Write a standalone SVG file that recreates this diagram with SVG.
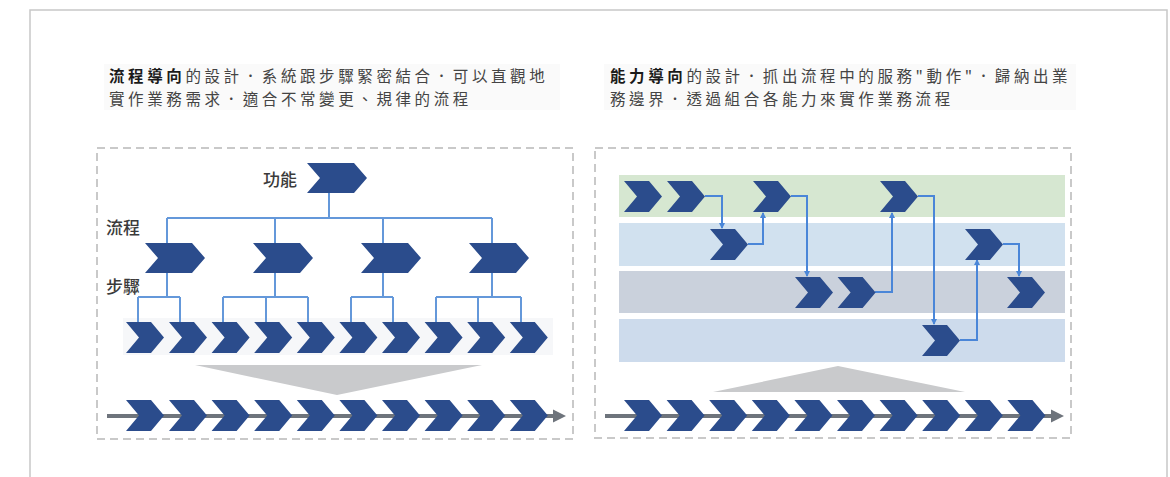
<svg xmlns="http://www.w3.org/2000/svg" width="1170" height="477" viewBox="0 0 1170 477">
<style>
.frame{fill:none;stroke:#c8c8c8;stroke-width:1.5}
.dash{fill:none;stroke:#c9c9c9;stroke-width:2;stroke-dasharray:8 5}
.chev{fill:#2b4c8c}
.tree{fill:none;stroke:#6498da;stroke-width:2}
.conn{fill:none;stroke:#4a86d8;stroke-width:2}
.flow{stroke:#6e747c;stroke-width:4}
.head{font-family:"Noto Sans CJK TC","Noto Sans CJK SC",sans-serif;font-size:15.5px;letter-spacing:3.6px;fill:#444}
.b{font-weight:bold;fill:#1a1a1a}
.lbl{font-family:"Noto Sans CJK TC","Noto Sans CJK SC",sans-serif;font-size:17px;fill:#3a3a3a;font-weight:500}
.funnel{fill:#c9cacc}
</style>
<defs>
<path id="cs" d="M0,0 h25 l13,15.5 l-13,15.5 h-25 l13,-15.5 z"/>
<path id="cb" d="M0,0 h47 l13,15 l-13,15 h-47 l13,-15 z"/>
<marker id="ah" markerWidth="7" markerHeight="7" refX="5" refY="3.5" orient="auto" markerUnits="userSpaceOnUse">
<path d="M0,0.5 L6,3.5 L0,6.5 z" fill="#4a86d8"/>
</marker>
</defs>
<rect width="1170" height="477" fill="#fff"/>
<path class="frame" d="M30,477 V10 H1167 V477"/>

<!-- headings -->
<rect x="104" y="64" width="456" height="46" fill="#fafafa"/>
<rect x="604" y="64" width="472" height="46" fill="#fafafa"/>
<text class="head b" x="109" y="82">流程導向</text>
<text class="head" x="185.4" y="82">的設計．系統跟步驟緊密結合．可以直觀地</text>
<text class="head" x="109" y="104.6">實作業務需求．適合不常變更、規律的流程</text>
<text class="head b" x="610" y="82">能力導向</text>
<text class="head" x="686.4" y="82">的設計．抓出流程中的服務"動作"．歸納出業</text>
<text class="head" x="610" y="104.6">務邊界．透過組合各能力來實作業務流程</text>

<!-- left panel -->
<rect class="dash" x="97" y="148" width="476" height="291"/>
<rect x="123" y="318" width="430" height="37" fill="#f6f7f9"/>
<text class="lbl" x="263" y="186">功能</text>
<text class="lbl" x="106" y="234">流程</text>
<text class="lbl" x="106" y="293">步驟</text>

<g id="left-connectors">
<path class="tree" d="M329,193 V218 M167,218 H492 M167,218 V243 M275,218 V243 M383,218 V243 M492,218 V243"/>
<path class="tree" d="M167,273 V297 M138,297 H180 M138,297 V322 M180,297 V322"/>
<path class="tree" d="M275,273 V297 M223,297 H308 M223,297 V322 M266,297 V322 M308,297 V322"/>
<path class="tree" d="M383,273 V297 M351,297 H393 M351,297 V322 M393,297 V322"/>
<path class="tree" d="M492,273 V297 M436,297 H521 M436,297 V322 M478,297 V322 M521,297 V322"/>
</g>

<g id="func"><use href="#cb" class="chev" x="307" y="163"/></g>
<g id="proc1"><use href="#cb" class="chev" x="145" y="243"/></g>
<g id="proc2"><use href="#cb" class="chev" x="253" y="243"/></g>
<g id="proc3"><use href="#cb" class="chev" x="361" y="243"/></g>
<g id="proc4"><use href="#cb" class="chev" x="469" y="243"/></g>
<g id="steps-left" class="chev">
<use href="#cs" x="126" y="322"/><use href="#cs" x="169" y="322"/><use href="#cs" x="211.6" y="322"/><use href="#cs" x="254.2" y="322"/><use href="#cs" x="296.8" y="322"/><use href="#cs" x="339.4" y="322"/><use href="#cs" x="382" y="322"/><use href="#cs" x="424.6" y="322"/><use href="#cs" x="467.2" y="322"/><use href="#cs" x="509.8" y="322"/>
</g>
<polygon class="funnel" points="195,365 482,365 337,395"/>
<g id="flow-left">
<line class="flow" x1="107" y1="416" x2="556" y2="416"/>
<polygon points="553,409.5 566,416 553,422.5" fill="#6e747c"/>
<g class="chev">
<use href="#cs" x="126" y="400"/><use href="#cs" x="169" y="400"/><use href="#cs" x="211.6" y="400"/><use href="#cs" x="254.2" y="400"/><use href="#cs" x="296.8" y="400"/><use href="#cs" x="339.4" y="400"/><use href="#cs" x="382" y="400"/><use href="#cs" x="424.6" y="400"/><use href="#cs" x="467.2" y="400"/><use href="#cs" x="509.8" y="400"/>
</g>
</g>

<!-- right panel -->
<rect class="dash" x="595" y="148" width="476" height="290"/>
<rect x="619" y="175" width="446" height="42" fill="#d6e7d1"/>
<rect x="619" y="223" width="446" height="43" fill="#d1e1ef"/>
<rect x="619" y="271" width="446" height="42" fill="#cad1dc"/>
<rect x="619" y="319" width="446" height="43" fill="#cddbec"/>

<g id="right-connectors">
<path class="conn" d="M705,196 H722 V228" marker-end="url(#ah)"/>
<path class="conn" d="M748,244 H763 V213" marker-end="url(#ah)"/>
<path class="conn" d="M791,196 H807 V276" marker-end="url(#ah)"/>
<path class="conn" d="M875,292 H892 V213" marker-end="url(#ah)"/>
<path class="conn" d="M918,196 H934 V324" marker-end="url(#ah)"/>
<path class="conn" d="M960,340 H977 V260" marker-end="url(#ah)"/>
<path class="conn" d="M1003,244 H1019 V276" marker-end="url(#ah)"/>
</g>

<g id="cap-g1"><use href="#cs" class="chev" x="624" y="181"/></g>
<g id="cap-g2"><use href="#cs" class="chev" x="667" y="181"/></g>
<g id="cap-g3"><use href="#cs" class="chev" x="753" y="181"/></g>
<g id="cap-g4"><use href="#cs" class="chev" x="880" y="181"/></g>
<g id="cap-b1"><use href="#cs" class="chev" x="710" y="229"/></g>
<g id="cap-b2"><use href="#cs" class="chev" x="965" y="229"/></g>
<g id="cap-s1"><use href="#cs" class="chev" x="795" y="277"/></g>
<g id="cap-s2"><use href="#cs" class="chev" x="837.6" y="277"/></g>
<g id="cap-s3"><use href="#cs" class="chev" x="1007" y="277"/></g>
<g id="cap-l1"><use href="#cs" class="chev" x="922" y="325"/></g>

<polygon class="funnel" points="713,392 965,392 838,366"/>
<g id="flow-right">
<line class="flow" x1="605" y1="416" x2="1054" y2="416"/>
<polygon points="1051,409.5 1064,416 1051,422.5" fill="#6e747c"/>
<g class="chev">
<use href="#cs" x="624" y="400"/><use href="#cs" x="666.6" y="400"/><use href="#cs" x="709.2" y="400"/><use href="#cs" x="751.8" y="400"/><use href="#cs" x="794.4" y="400"/><use href="#cs" x="837" y="400"/><use href="#cs" x="879.6" y="400"/><use href="#cs" x="922.2" y="400"/><use href="#cs" x="964.8" y="400"/><use href="#cs" x="1007.4" y="400"/>
</g>
</g>
</svg>
